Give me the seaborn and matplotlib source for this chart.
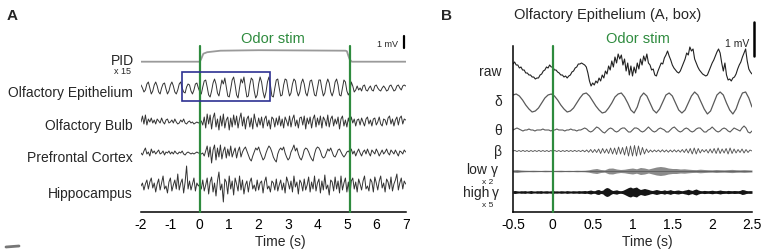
import numpy as np
import matplotlib
matplotlib.use("Agg")
import matplotlib.pyplot as plt
from matplotlib.patches import Rectangle
from matplotlib.lines import Line2D
import seaborn as sns

# ================= DATA =================
# ---- Panel A (values in units of 1/12 mV, sampled every 0.05 s from -2 s) ----
a_ticks = [-2, -1, 0, 1, 2, 3, 4, 5, 6, 7]
a_dt = 0.05
stim_on, stim_off = 0.0, 5.1
box_start, box_end = -0.6, 2.4

pid_t = [-2.0, 0.0, 0.05, 0.12, 0.25, 0.7, 2.0, 4.95, 5.0, 5.05, 5.1, 5.17, 5.3, 7.0]
pid_v = [0, 0, 3, 8, 9.5, 11, 11.5, 11, 10.5, 6, 2, 0, 0, 0]

oe = [3, 0, -4, -2, 4, 6, 0, -6, -3, 3,
      6, 2, -4, -6, 0, 4, 5, -1, -6, -3,
      3, 6, 2, -4, -6, -2, 4, 6, 0, -4,
      -5, 1, 4, 3, -3, -6, -2, 4, 5, 0,
      -4, -6, 1, 7, 8, 1, -7, -9, -3, 5,
      9, 4, -5, -8, 0, 8, 4, 10, 1, -8,
      -9, -1, 8, 11, 3, -7, -10, 0, 9, 5,
      11, 0, -9, -8, 3, 10, 8, -3, -10, -7,
      4, 11, 6, -4, -10, -4, 6, 11, 3, -8,
      -9, 0, 8, 9, 0, -8, -7, 3, 9, 8,
      -1, -8, -5, 4, 9, 7, -3, -8, -4, 5,
      9, 4, -5, -8, -1, 7, 8, 1, -7, -8,
      0, 8, 8, -1, -8, -5, 4, 9, 5, -4,
      -8, -3, 6, 9, 3, -7, -8, 0, 8, 6,
      -3, -7, -4, 6, 2, -4, -2, 2, -2, 0,
      -3, 2, 3, -2, -3, 0, 2, -2, -3, 2,
      3, 0, -2, -3, 0, 2, 0, -3, -2, 2,
      3, 0, -3, -2, 2, 3, 0, -2, 2, 3,
      2]

ob = [0, 6, -2, 7, -3, 3, 0, 4, -1, 2,
      -2, 3, 1, -1, 4, 0, -2, 2, 3, -1,
      0, 2, -1, 3, 0, -2, -1, 2, 0, 3,
      -1, -2, 0, 1, -1, 0, -2, -1, 0, -1,
      0, 1, -3, 5, -6, 8, -2, 7, -7, 4,
      9, -5, 3, -8, 6, -4, 8, -6, 2, 5,
      -8, 4, -5, 7, -3, 6, -6, 3, 9, -4,
      5, -7, 3, 6, -5, 4, -7, 8, 0, -5,
      4, -3, 5, -6, 3, 6, -4, 2, -7, 5,
      3, -5, 4, -3, 6, -4, 3, -6, 5, 1,
      -4, 6, -5, 3, 7, -4, 2, -6, 4, 5,
      -3, 6, -7, 4, -2, 5, -6, 3, 7, -5,
      4, -3, 6, -6, 5, 2, -4, 7, -5, 3,
      6, -4, 3, -2, 5, -7, 3, 6, -4, 2,
      -5, 4, -2, 5, -1, 3, -4, 2, 3, -3,
      4, 0, -4, 3, 5, -2, 2, -4, 3, 4,
      -3, 0, 5, -2, -4, 3, 2, -3, 4, 6,
      -2, 3, -4, 2, 5, -3, 4, 6, -2, 3,
      2]

pfc = [0, -2, 2, 5, -1, 1, -3, 4, 0, 2,
       -1, 1, 3, -1, 0, 2, -2, 1, 0, 2,
       -1, 1, -1, 2, 0, -1, 1, 0, 2, -1,
       -2, 0, 1, 0, -1, 0, -1, 0, 1, 0,
       0, -1, 0, -3, 2, 7, -4, 6, -10, 3,
       8, -7, 5, -4, 8, -6, 2, 6, -5, 4,
       -3, 7, -4, 1, 5, -5, 2, 6, -4, 1,
       4, 6, 2, -2, -6, -8, -3, 1, 5, 3,
       6, 1, -3, -7, -5, 0, 4, 7, 5, 1,
       -4, -7, -9, -1, 3, 5, 3, 6, 0, -4,
       -7, -5, 1, 4, 8, 2, 5, -1, -5, -7,
       -3, 3, 5, 4, 1, -3, -6, -8, -1, 4,
       6, 5, 2, -3, -5, -4, 0, 4, 2, 5,
       1, -3, -4, -1, 3, 4, 1, -2, -4, -2,
       1, 2, 0, 4, -1, 2, -3, 1, 4, 0,
       -3, 1, 3, -1, 4, 0, -3, 3, 1, -1,
       4, 1, -3, 0, 3, -1, 1, 4, 0, -2,
       3, 1, -1, 3, 0, -3, 2, 1, -1, 3,
       1]

hip = [0, 3, -4, 2, 6, -3, 4, 8, -2, 3,
       -6, 2, 7, -4, 3, 10, -3, 0, -7, 4,
       8, -5, 1, 6, -3, 12, -4, 3, 7, -7,
       4, 20, -3, 5, -4, 2, 8, -5, 3, 0,
       2, -3, 6, -5, 1, 8, -8, 4, 9, -6,
       3, -10, 5, 14, -4, 2, -16, 7, 4, -8,
       10, -3, 5, -9, 8, 2, -5, 10, -4, 6,
       -8, 1, 5, -6, 4, 8, -3, 1, -5, 6,
       -4, 3, 5, -7, 4, 9, -3, 0, -6, 5,
       3, -4, 7, -5, 1, 6, -4, 3, -7, 9,
       4, -3, 5, -6, 10, -1, 4, -8, 6, 3,
       -5, 7, -4, 1, 9, -6, 4, -3, 10, -5,
       3, 7, -7, 5, -4, 11, -3, 1, -9, 6,
       4, -5, 9, -3, 5, -7, 10, -4, 3, 8,
       -6, 4, -10, 5, 8, -3, 4, -6, 7, 2,
       -4, 5, 10, -3, 0, -5, 7, 4, -6, 9,
       3, -4, 5, 10, -2, 3, -6, 7, 4, -3,
       9, -5, 2, 6, 12, -4, 3, 8, -3, 5,
       2]

a_labels = ["Olfactory Epithelium", "Olfactory Bulb", "Prefrontal Cortex", "Hippocampus"]

# ---- Panel B (values in units of 1/34 mV, from -0.5 s) ----
b_ticks = [-0.5, 0, 0.5, 1, 1.5, 2, 2.5]
b_ticklabels = ["-0.5", "0", "0.5", "1", "1.5", "2", "2.5"]

raw_dt = 0.02
raw = [7, 9, 6, 6, 3, 4, 1, 1, -2, -2,
       -4, -4, -6, -6, -8, -7, -7, -4, -3, 0,
       1, 4, 3, 6, 4, 4, 1, 1, -1, -2,
       -4, -4, -6, -5, -7, -5, -4, -1, 0, 3,
       4, 7, 7, 8, 7, 6, 4, -2, -10, -15,
       -12, -14, -10, -12, -7, -10, -4, -7, 0, -3,
       5, 1, 10, 4, 14, 8, 17, 12, 16, 6,
       12, 0, 8, -4, 5, -5, 4, -2, 8, 2,
       12, 6, 15, 10, 17, 8, 6, 1, 2, -4,
       -5, 0, 4, 8, 7, 13, 16, 20, 15, 11,
       6, 3, 1, -1, -2, 0, 4, 8, 12, 18,
       16, 24, 20, 22, 12, 8, 4, 1, -1, -3,
       -4, -5, -4, 0, 4, 8, 11, 15, 19, 22,
       18, 8, 0, 8, -4, -9, -8, -10, -7, -6,
       -3, 2, 6, 9, 14, 18, 22, 10, 2, -1,
       -3]

delta_dt = 0.04
delta = [8, 9, 7, 3, -2, -6, -9, -8, -5, 0,
         5, 8, 9, 7, 3, -2, -6, -9, -8, -5,
         0, 5, 9, 10, 7, 2, -3, -7, -10, -9,
         -5, 0, 6, 9, 10, 6, 0, -7, -10, -4,
         6, 10, 7, 0, -7, -10, -6, 1, 8, 10,
         7, 0, -7, -10, -7, 0, 7, 11, 8, 1,
         -6, -11, -8, 0, 8, 11, 8, 0, -7, -11,
         -6, 3, 10, 11, 5, -4]

fast_dt = 0.025
theta = [0, 1, 2, 1, 0, -1, 0, 0, 1, 0,
         0, -1, 0, 0, 0, 1, 0, 0, 0, -1,
         0, 0, 1, 0, 0, 0, -1, 0, 0, 1,
         0, 0, -1, 0, 0, 1, 2, 1, -1, -2,
         -1, 1, 3, 2, 0, -2, -3, -1, 1, 2,
         1, -1, -2, -1, 1, 2, 2, 0, -2, -2,
         0, 2, 2, 1, -1, -2, -1, 1, 3, 1,
         -1, -2, -1, 1, 2, 1, 0, -2, -2, 0,
         2, 3, 1, -1, -2, -1, 1, 2, 1, -1,
         -2, -1, 1, 2, 2, 0, -2, -2, 0, 1,
         3, 1, -1, -2, -1, 1, 2, 1, -1, -2,
         0, 2, 1, 0, -1, 2, 4, 2, -2, -3,
         -1]

beta = [0, 0.5, -0.5, 0.5, -0.5, 0.6, -0.5, 0.5, -0.6, 0.5,
        -0.5, 0.5, -0.5, 0.6, -0.5, 0.5, -0.5, 0.5, -0.6, 0.5,
        -0.5, 0.5, -0.5, 0.5, -0.6, 0.5, -0.5, 0.6, -0.5, 0.5,
        -0.5, 0.6, -0.5, 0.5, -0.6, 0.8, -0.8, 1.0, -1.2, 1.5,
        -1.5, 1.5, -1.5, 2, -2.5, 2.5, -2, 2, -2.5, 3,
        -3, 3, -3.5, 4, -3, 3.5, -4, 4.5, -5, 5,
        -5, 5.5, -5, 5, -4, 3.5, -3, 2, -1.5, 1,
        -1, 1, -0.8, 1, -1, 1.2, -1, 1, -1.2, 1,
        -1, 1.2, -1, 1, -1.2, 1.5, -1.5, 2, -2, 2.5,
        -3, 3, -3, 2.5, -2, 1.5, -1, 1.5, -2, 2,
        -2, 2.5, -2.5, 3, -2.5, 2, -2, 2.5, -3, 3,
        -2.5, 2, -2, 1.5, -1.5, 2, -2, 1.5, -1.5, 1,
        0]

lowg_dt = 0.05
lowg_env = [1.2, 1.5, 1.0, 0.8, 0.7, 0.8, 0.7, 0.6, 0.8, 0.7,
            0.6, 0.7, 0.8, 0.6, 0.7, 0.6, 0.8, 0.7, 0.8, 1.2,
            2.0, 2.5, 1.5, 1.2, 2.8, 3.0, 2.0, 1.5, 1.8, 2.5,
            3.0, 2.2, 3.5, 3.0, 2.0, 3.0, 4.0, 4.5, 4.0, 3.0,
            2.5, 2.5, 2.0, 2.2, 1.8, 1.5, 1.4, 1.8, 1.5, 1.3,
            1.2, 1.5, 1.3, 1.2, 1.4, 1.6, 1.3, 1.2, 1.4, 1.2,
            1.0]

highg_env = [1.3, 1.5, 1.2, 1.0, 1.3, 1.2, 1.4, 1.0, 1.2, 1.5,
             1.1, 1.0, 1.3, 1.2, 1.4, 1.0, 1.2, 1.3, 1.0, 1.2,
             1.5, 1.1, 1.2, 1.0, 1.3, 1.2, 1.0, 1.4, 1.2, 1.0,
             1.3, 1.2, 1.1, 1.4, 1.2, 1.3, 1.5, 1.2, 1.6, 2.0,
             1.4, 1.3, 2.2, 2.5, 1.5, 1.8, 3.5, 4.5, 4.0, 2.5,
             1.5, 1.8, 2.2, 1.5, 1.3, 1.6, 2.5, 3.5, 4.5, 5.0,
             4.0, 4.5, 5.0, 3.5, 2.5, 3.0, 3.5, 3.0, 2.5, 1.8,
             1.5, 2.0, 2.5, 2.0, 1.5, 1.6, 2.2, 1.5, 1.8, 2.4,
             1.6, 1.4, 1.8, 2.0, 1.5, 1.3, 1.8, 2.2, 2.8, 2.0,
             1.6, 2.5, 3.0, 2.0, 1.4, 1.3, 1.6, 1.4, 1.3, 1.5,
             1.8, 1.4, 1.3, 1.6, 2.0, 1.5, 1.4, 1.3, 1.6, 1.4,
             1.3, 1.5, 1.4, 1.3, 1.6, 2.5, 2.2, 1.5, 1.3, 1.4,
             1.3]

# ================= STYLE / LAYOUT =================
sns.set_style("white")
plt.rcParams["font.family"] = ["Liberation Sans", "DejaVu Sans"]
plt.rcParams["axes.unicode_minus"] = False

W, H = 772, 251
GREEN = "#2e8b3e"
BLUE = "#2e3192"
TRACE = "#333333"

fig = plt.figure(figsize=(W / 100, H / 100), dpi=100)
fig.patch.set_facecolor("white")


def ftxt(x, y, s, **kw):
    fig.text(x / W, 1 - y / H, s, **kw)


def fline(x0, y0, x1, y1, **kw):
    fig.add_artist(Line2D([x0 / W, x1 / W], [1 - y0 / H, 1 - y1 / H], **kw))


# ---------------- Panel A ----------------
A_L, A_R, A_BASE, TOP = 141, 405.7, 212.7, 20
axA = fig.add_axes([A_L / W, (H - A_BASE) / H, (A_R - A_L) / W, (A_BASE - TOP) / H])
axA.set_xlim(-2, 7)
axA.set_ylim(0, A_BASE - TOP)


def ya(p):
    return A_BASE - p


sns.lineplot(x=pid_t, y=ya(62.7) + np.array(pid_v), ax=axA, color="#9a9a9a",
             linewidth=1.3, estimator=None, sort=False)
for vals, center in zip([oe, ob, pfc, hip], [89, 123, 154, 187]):
    tt = -2 + a_dt * np.arange(len(vals))
    sns.lineplot(x=tt, y=ya(center) + np.array(vals), ax=axA, color=TRACE,
                 linewidth=0.7, estimator=None, sort=False)

for ts in (stim_on, stim_off):
    axA.plot([ts, ts], [0, ya(47)], color=GREEN, lw=1.6, zorder=5, clip_on=False)
axA.add_patch(Rectangle((box_start, ya(102)), box_end - box_start, 29,
                        fill=False, ec=BLUE, lw=1.2, zorder=6))

for s in ("top", "right", "left"):
    axA.spines[s].set_visible(False)
axA.spines["bottom"].set_linewidth(1.1)
axA.spines["bottom"].set_color("black")
axA.set_yticks([])
axA.set_xticks(a_ticks)
axA.set_xticklabels([str(t) for t in a_ticks])
axA.tick_params(axis="x", direction="in", length=3.2, width=1.0, pad=3.5,
                labelsize=10, colors="black")
axA.set_xlabel("")
axA.set_ylabel("")

ftxt(12, 20, "A", fontsize=11, fontweight="bold", ha="center", va="baseline")
ftxt(273, 42.7, "Odor stim", fontsize=10.5, color=GREEN, ha="center", va="baseline")
ftxt(398, 47, "1 mV", fontsize=6.5, ha="right", va="baseline")
fline(403.5, 37.3, 403.5, 48.5, color="black", lw=1.6)
ftxt(122, 65, "PID", fontsize=10, ha="center", va="baseline")
ftxt(122, 74, "x 15", fontsize=6.5, ha="center", va="baseline")
for lab, base in zip(a_labels, [97, 130, 162.5, 198]):
    ftxt(133, base, lab, fontsize=10, ha="right", va="baseline")
ftxt(280, 246, "Time (s)", fontsize=10, ha="center", va="baseline")

# ---------------- Panel B ----------------
B_L, B_R, B_BASE = 513, 752, 213
axB = fig.add_axes([B_L / W, (H - B_BASE) / H, (B_R - B_L) / W, (B_BASE - TOP) / H])
axB.set_xlim(-0.5, 2.5)
axB.set_ylim(0, B_BASE - TOP)


def yb(p):
    return B_BASE - p


t_raw = -0.5 + raw_dt * np.arange(len(raw))
t_delta = -0.5 + delta_dt * np.arange(len(delta))
t_theta = -0.5 + fast_dt * np.arange(len(theta))
t_beta = -0.5 + fast_dt * np.arange(len(beta))
t_low = -0.5 + lowg_dt * np.arange(len(lowg_env))
t_high = -0.5 + fast_dt * np.arange(len(highg_env))

sns.lineplot(x=t_raw, y=yb(72) + np.array(raw), ax=axB, color="#222222",
             linewidth=0.8, estimator=None, sort=False)
sns.lineplot(x=t_delta, y=yb(104) + np.array(delta), ax=axB, color="#5a5a5a",
             linewidth=0.9, estimator=None, sort=False)
sns.lineplot(x=t_theta, y=yb(131) + np.array(theta), ax=axB, color="#5a5a5a",
             linewidth=0.8, estimator=None, sort=False)
sns.lineplot(x=t_beta, y=yb(152) + np.array(beta), ax=axB, color="#555555",
             linewidth=0.65, estimator=None, sort=False)
lg = np.array(lowg_env)
axB.fill_between(t_low, yb(172) - lg, yb(172) + lg, color="#8a8a8a", lw=0)
sns.lineplot(x=t_low, y=np.full(len(t_low), yb(172)), ax=axB, color="#555555",
             linewidth=0.5, estimator=None, sort=False)
hg = np.array(highg_env)
axB.fill_between(t_high, yb(193) - hg, yb(193) + hg, color="#151515", lw=0)

axB.plot([0, 0], [0, yb(47)], color=GREEN, lw=1.6, zorder=5, clip_on=False)

for s in ("top", "right"):
    axB.spines[s].set_visible(False)
for s in ("left", "bottom"):
    axB.spines[s].set_linewidth(1.1)
    axB.spines[s].set_color("black")
axB.spines["left"].set_bounds(0, yb(47))
axB.set_yticks([])
axB.set_xticks(b_ticks)
axB.set_xticklabels(b_ticklabels)
axB.tick_params(axis="x", direction="in", length=3.2, width=1.0, pad=3.5,
                labelsize=10, colors="black")
axB.set_xlabel("")
axB.set_ylabel("")

ftxt(447, 19.5, "B", fontsize=11, fontweight="bold", ha="center", va="baseline")
ftxt(608, 19, "Olfactory Epithelium (A, box)", fontsize=10.5, ha="center", va="baseline")
ftxt(638, 43, "Odor stim", fontsize=10.5, color=GREEN, ha="center", va="baseline")
ftxt(749, 46.7, "1 mV", fontsize=7.5, ha="right", va="baseline")
fline(754, 23.3, 754, 56.7, color="black", lw=1.8)
ftxt(502, 76, "raw", fontsize=10, ha="right", va="baseline")
ftxt(502, 106, "δ", fontsize=10, ha="right", va="baseline")
ftxt(502, 135, "θ", fontsize=10, ha="right", va="baseline")
ftxt(502, 156, "β", fontsize=10, ha="right", va="baseline")
ftxt(487, 174, "low", fontsize=10, ha="right", va="baseline")
ftxt(488, 183.5, "x 2", fontsize=6, ha="center", va="baseline")
ftxt(498, 174, "γ", fontsize=10, ha="right", va="baseline")
ftxt(489, 197, "high", fontsize=10, ha="right", va="baseline")
ftxt(488, 207, "x 5", fontsize=6, ha="center", va="baseline")
ftxt(499, 197, "γ", fontsize=10, ha="right", va="baseline")
ftxt(647, 246, "Time (s)", fontsize=10, ha="center", va="baseline")

# small fragment of a lower panel label at the bottom-left edge
fline(6, 248, 19, 247, color="#777777", lw=2)

fig.savefig("out.png", dpi=100, facecolor="white")
